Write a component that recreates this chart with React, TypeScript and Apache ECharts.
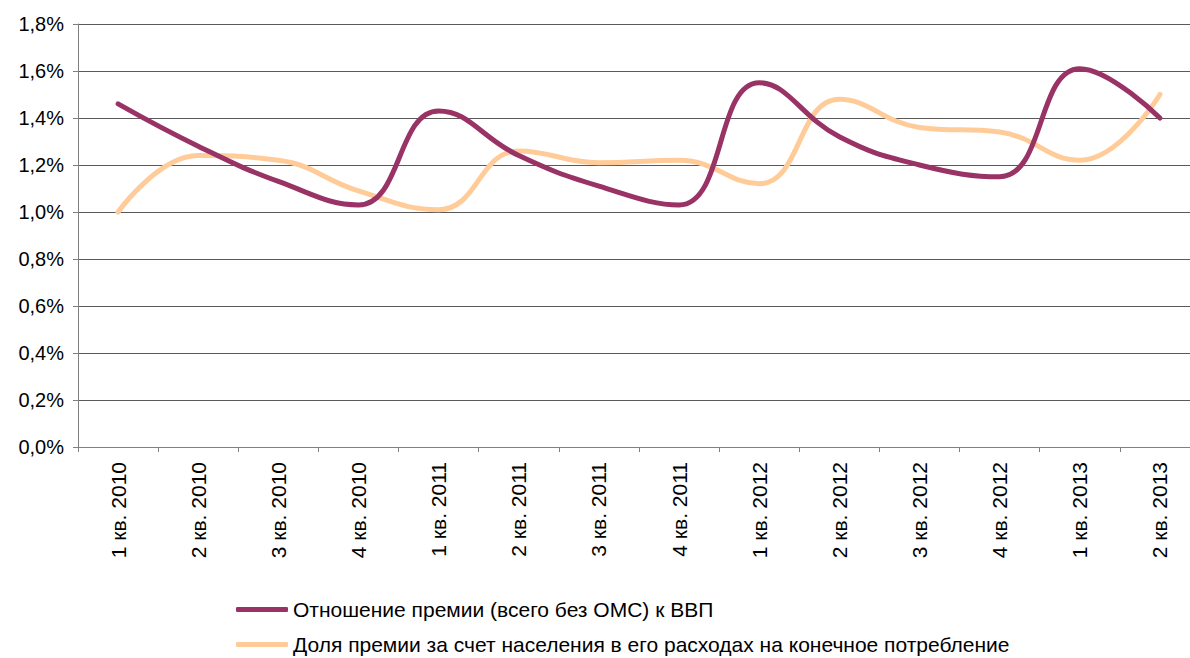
import React, { useEffect, useRef } from "react";
import * as echarts from "echarts";

const categories = [
  "1 кв. 2010", "2 кв. 2010", "3 кв. 2010", "4 кв. 2010",
  "1 кв. 2011", "2 кв. 2011", "3 кв. 2011", "4 кв. 2011",
  "1 кв. 2012", "2 кв. 2012", "3 кв. 2012", "4 кв. 2012",
  "1 кв. 2013", "2 кв. 2013",
];

const premiumToGdp = [1.46, 1.28, 1.13, 1.03, 1.43, 1.24, 1.11, 1.03, 1.55, 1.32, 1.2, 1.15, 1.61, 1.4];
const householdShare = [1.0, 1.24, 1.22, 1.09, 1.01, 1.26, 1.21, 1.22, 1.12, 1.48, 1.36, 1.34, 1.22, 1.5];

const seriesNames = [
  "Отношение премии (всего без ОМС) к ВВП",
  "Доля премии за счет населения в его расходах на конечное потребление",
];

const yMin = 0;
const yMax = 1.8;
const yStep = 0.2;

const FONT = "'Liberation Sans', Arial, sans-serif";

const legendBase = {
  orient: "horizontal",
  left: 236,
  itemWidth: 52,
  itemHeight: 5,
  icon: "roundRect",
  padding: 0,
  textStyle: { color: "#000", fontSize: 21, fontFamily: FONT },
};

export default function App() {
  const ref = useRef<HTMLDivElement>(null);

  useEffect(() => {
    if (!ref.current) return;
    const chart = echarts.init(ref.current, undefined, { renderer: "svg" });
    chart.setOption({
      animation: false,
      backgroundColor: "#ffffff",
      grid: { left: 78, right: 0, top: 24, bottom: 211, containLabel: false },
      legend: [
        { ...legendBase, top: 599, data: [seriesNames[0]] },
        { ...legendBase, top: 634, data: [seriesNames[1]] },
      ],
      xAxis: {
        type: "category",
        data: categories,
        boundaryGap: true,
        axisLine: { lineStyle: { color: "#808080", width: 1 } },
        axisTick: { show: true, length: 5, lineStyle: { color: "#808080" } },
        axisLabel: {
          rotate: 90,
          interval: 0,
          margin: 15,
          color: "#000",
          fontSize: 21,
          fontFamily: FONT,
        },
        splitLine: { show: false },
      },
      yAxis: {
        type: "value",
        min: yMin,
        max: yMax,
        interval: yStep,
        axisLine: { show: true, lineStyle: { color: "#808080", width: 1 } },
        axisTick: { show: true, length: 5, lineStyle: { color: "#808080" } },
        axisLabel: {
          margin: 14,
          color: "#000",
          fontSize: 20,
          fontFamily: FONT,
          formatter: (v: number) => v.toFixed(1).replace(".", ",") + "%",
        },
        splitLine: { show: true, lineStyle: { color: "#5a5a5a", width: 1 } },
      },
      series: [
        {
          name: seriesNames[0],
          type: "line",
          data: premiumToGdp,
          smooth: 0.45,
          showSymbol: false,
          symbol: "none",
          itemStyle: { color: "#993366" },
          lineStyle: { color: "#993366", width: 5, cap: "round", join: "round" },
          z: 3,
        },
        {
          name: seriesNames[1],
          type: "line",
          data: householdShare,
          smooth: 0.45,
          showSymbol: false,
          symbol: "none",
          itemStyle: { color: "#FFCC99" },
          lineStyle: { color: "#FFCC99", width: 5, cap: "round", join: "round" },
          z: 2,
        },
      ],
    });
    return () => chart.dispose();
  }, []);

  return (
    <div style={{ position: "absolute", left: 0, top: 0, width: 1190, height: 658, overflow: "hidden", background: "#fff" }}>
      <div ref={ref} style={{ width: 1200, height: 658 }} />
    </div>
  );
}
